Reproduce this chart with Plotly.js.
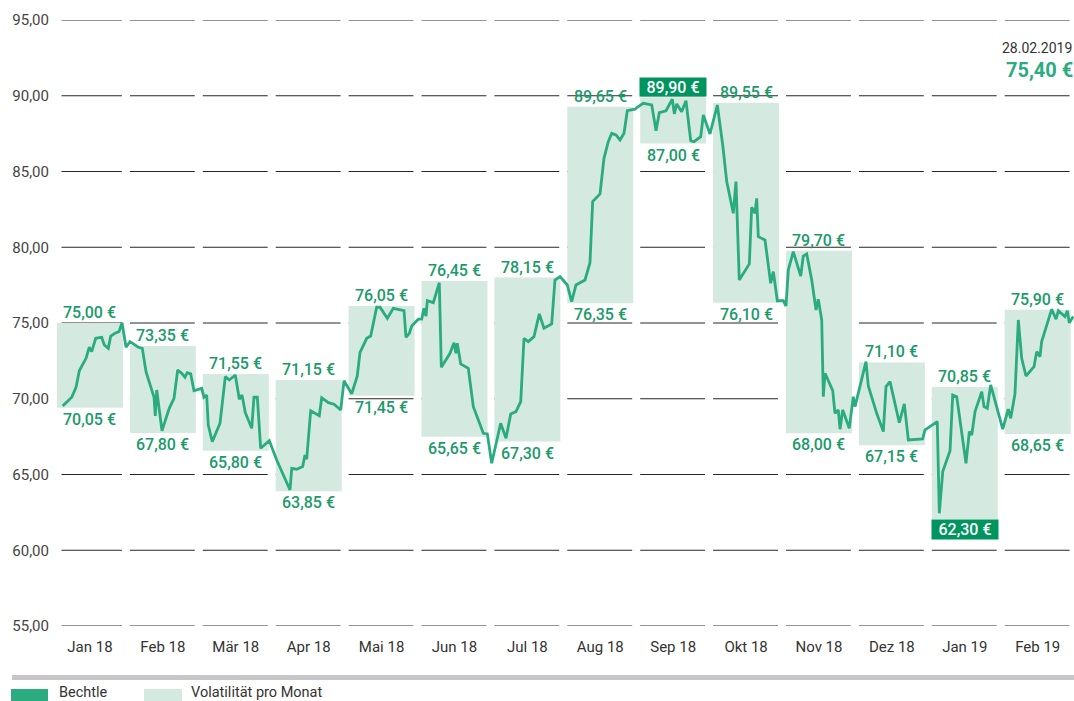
<!DOCTYPE html>
<html>
<head>
<meta charset="utf-8">
<script src="https://cdn.plot.ly/plotly-3.0.1.min.js"></script>
<style>
  html, body { margin: 0; padding: 0; background: #fff; }
  #chart { width: 1074px; height: 701px; }
</style>
</head>
<body>
<div id="chart"></div>
<script>
// ---------- DATA ----------
const months = ['Jan 18','Feb 18','Mär 18','Apr 18','Mai 18','Jun 18','Jul 18','Aug 18','Sep 18','Okt 18','Nov 18','Dez 18','Jan 19','Feb 19'];

// monthly range boxes (as drawn)
const boxHigh = [75.00, 73.48, 71.63, 71.24, 76.12, 77.77, 78.00, 89.28, 89.90, 89.54, 79.77, 72.40, 70.78, 75.88];
const boxLow  = [69.41, 67.74, 66.57, 63.90, 70.20, 67.50, 67.17, 76.30, 86.84, 76.34, 67.72, 66.93, 62.04, 67.67];

// printed monthly high / low labels
const labelHigh = [75.00, 73.35, 71.55, 71.15, 76.05, 76.45, 78.15, 89.65, 89.90, 89.55, 79.70, 71.10, 70.85, 75.90];
const labelLow  = [70.05, 67.80, 65.80, 63.85, 71.45, 65.65, 67.30, 76.35, 87.00, 76.10, 68.00, 67.15, 62.30, 68.65];
const highlightHigh = 8;   // Sep 18 : all-period high
const highlightLow  = 12;  // Jan 19 : all-period low

// Bechtle share price (position in months from Jan 18, price in EUR)
const dayPos = [0.078,0.202,0.261,0.306,0.398,0.443,0.476,0.531,0.613,0.649,0.704,0.737,0.796,0.850,0.892,0.947,1.001,
  1.115,1.170,1.221,1.285,1.331,1.348,1.368,1.440,1.540,1.605,1.656,1.711,1.756,1.787,1.834,1.879,1.985,
  2.016,2.053,2.075,2.130,2.236,2.309,2.364,2.446,2.501,2.538,2.583,2.671,2.702,2.748,2.794,2.912,
  3.014,3.082,3.196,3.220,3.288,3.370,3.402,3.425,3.480,3.598,3.631,3.722,3.800,3.892,3.937,4.043,
  4.119,4.156,4.248,4.303,4.385,4.431,4.531,4.613,4.760,4.787,4.833,4.866,4.956,
  5.003,5.034,5.062,5.080,5.162,5.244,5.272,5.391,5.446,5.473,5.491,5.538,5.642,5.711,5.848,5.903,5.963,
  6.086,6.159,6.224,6.296,6.361,6.406,6.465,6.543,6.616,6.680,6.786,6.831,6.900,
  7.000,7.060,7.119,7.243,7.311,7.348,7.449,7.503,7.562,7.609,7.668,7.723,7.778,7.823,7.929,
  7.960,8.042,8.158,8.217,8.262,8.354,8.409,8.440,8.468,8.501,8.569,8.628,8.693,8.738,8.830,8.866,
  8.957,9.058,9.132,9.187,9.277,9.314,9.359,9.414,9.497,9.529,9.575,9.598,9.620,9.712,9.790,9.826,9.881,9.963,
  10.000,10.032,10.100,10.202,10.237,10.284,10.353,10.412,10.443,10.490,10.512,10.535,10.641,10.672,10.717,10.741,10.778,10.868,10.923,10.947,
  11.097,11.129,11.244,11.335,11.372,11.427,11.554,11.623,11.678,11.875,11.907,
  12.075,12.103,12.150,12.250,12.287,12.342,12.469,12.515,12.548,12.593,12.685,12.716,12.761,12.808,
  12.973,13.049,13.082,13.141,13.187,13.233,13.292,13.402,13.439,13.484,13.507,13.645,13.704,13.736,13.827,13.859,13.886,13.941];
const price = [69.52,70.10,70.76,71.85,72.67,73.40,73.11,73.99,74.06,73.55,73.33,74.14,74.32,74.43,75.02,73.40,73.77,
  73.40,73.33,71.79,70.80,70.10,68.86,70.58,67.89,69.37,70.03,71.90,71.68,71.42,71.72,71.64,70.53,70.69,
  70.10,70.25,68.27,67.17,68.38,71.46,71.24,71.57,69.97,70.25,69.08,68.05,70.10,70.10,66.73,67.23,
  65.96,65.19,63.98,65.41,65.35,65.52,66.29,66.01,69.21,68.88,70.07,69.74,69.64,69.26,71.19,70.32,
  71.50,73.04,73.99,74.14,76.04,76.04,75.31,75.97,75.81,74.06,74.32,74.80,75.25,
  75.25,75.97,75.46,76.47,76.34,77.66,72.08,73.00,73.70,73.00,73.66,72.30,72.01,69.48,67.72,67.68,65.74,
  68.38,67.39,69.00,69.15,69.81,73.99,73.77,74.10,75.60,74.65,74.94,77.84,78.06,
  77.51,76.41,77.51,77.84,78.98,83.01,83.52,85.87,86.97,87.52,87.41,87.08,87.52,89.01,89.11,
  89.24,89.50,89.39,87.69,88.88,89.01,89.50,89.77,88.80,89.46,88.95,89.67,87.03,86.97,87.30,88.73,
  87.48,89.39,86.75,84.33,82.24,84.33,77.84,78.28,78.90,82.64,82.24,83.23,80.70,80.48,77.62,78.39,76.47,76.47,
  76.12,78.50,79.71,78.10,79.42,79.56,77.84,75.86,76.57,75.20,70.14,71.68,70.53,69.04,69.26,67.99,69.26,68.05,70.14,69.48,
  72.45,70.84,69.04,67.83,70.80,71.13,68.42,69.66,67.28,67.35,67.94,
  68.49,62.44,65.19,66.57,70.25,70.14,65.74,67.83,67.61,69.15,70.47,69.48,69.37,70.91,
  67.99,69.31,68.71,70.32,75.20,72.67,71.50,72.12,73.11,72.78,73.77,75.91,75.25,75.81,75.42,75.81,75.02,75.42];

const yTicks = [55, 60, 65, 70, 75, 80, 85, 90, 95];
const lastDate = '28.02.2019';
const lastPrice = 75.40;

// ---------- STYLE / LAYOUT ----------
const GREEN = '#2aab80';
const LABEL_GREEN = '#1b9a6a';
const DARK_GREEN = '#00945f';
const BOX_FILL = '#d4e9df';
const FONT = 'Roboto, "Open Sans", sans-serif';

const W = 1074, H = 701;
const M = {l: 50, r: 0, t: 20, b: 75};
const PW = W - M.l - M.r, PH = H - M.t - M.b;
const BOX_W = 0.905;
const px2x = px => (px - M.l) / PW;          // pixel -> paper x
const py2y = py => (M.t + PH - py) / PH;     // pixel -> paper y

const fmt = v => v.toFixed(2).replace('.', ',');
const eur = v => fmt(v) + ' €';

const idx = months.map((m, i) => i);

const traces = [
  {
    type: 'bar',
    x: idx.map(i => i + BOX_W / 2),
    base: boxLow,
    y: boxHigh.map((h, i) => h - boxLow[i]),
    width: BOX_W,
    marker: {color: BOX_FILL, line: {width: 0}},
    hoverinfo: 'skip',
    showlegend: false
  },
  {
    type: 'scatter',
    mode: 'lines',
    x: dayPos,
    y: price,
    line: {color: GREEN, width: 2.8},
    hoverinfo: 'skip',
    showlegend: false
  }
];

const shapes = [];
// segmented grid lines, one segment per month
yTicks.forEach(v => {
  idx.forEach(i => {
    shapes.push({
      type: 'line', layer: 'below', xref: 'x', yref: 'y',
      x0: i === 0 ? 0.062 : i, x1: i + 0.89, y0: v, y1: v,
      line: {color: '#262626', width: 1}
    });
  });
});
// bottom grey rule
shapes.push({type: 'rect', xref: 'paper', yref: 'paper',
  x0: px2x(12), x1: px2x(1074), y0: py2y(680), y1: py2y(675),
  fillcolor: '#c5c5ca', line: {width: 0}});
// legend swatches
shapes.push({type: 'rect', xref: 'paper', yref: 'paper',
  x0: px2x(11), x1: px2x(48), y0: py2y(702), y1: py2y(689),
  fillcolor: GREEN, line: {width: 0}});
shapes.push({type: 'rect', xref: 'paper', yref: 'paper',
  x0: px2x(144), x1: px2x(182), y0: py2y(702), y1: py2y(689),
  fillcolor: BOX_FILL, line: {width: 0}});

const annotations = [];
idx.forEach(i => {
  const cx = i + BOX_W / 2;
  const hiHL = i === highlightHigh, loHL = i === highlightLow;
  annotations.push({
    x: cx, y: boxHigh[i], xref: 'x', yref: 'y',
    text: eur(labelHigh[i]), showarrow: false,
    xanchor: 'center', yanchor: 'bottom',
    font: {family: FONT, size: 16, weight: 500, color: hiHL ? '#ffffff' : LABEL_GREEN},
    bgcolor: hiHL ? DARK_GREEN : 'rgba(0,0,0,0)',
    width: hiHL ? 66 : undefined, height: hiHL ? 18 : undefined,
    borderpad: 0
  });
  annotations.push({
    x: cx, y: boxLow[i], xref: 'x', yref: 'y',
    text: eur(labelLow[i]), showarrow: false,
    xanchor: 'center', yanchor: 'top',
    font: {family: FONT, size: 16, weight: 500, color: loHL ? '#ffffff' : LABEL_GREEN},
    bgcolor: loHL ? DARK_GREEN : 'rgba(0,0,0,0)',
    width: loHL ? 66 : undefined, height: loHL ? 19 : undefined,
    borderpad: 0, yshift: loHL ? 0 : -1
  });
});
// last price box (top right)
annotations.push({xref: 'paper', yref: 'paper', x: px2x(1074), y: py2y(48),
  xanchor: 'right', yanchor: 'middle', showarrow: false, text: lastDate,
  font: {family: FONT, size: 14, color: '#333333'}});
annotations.push({xref: 'paper', yref: 'paper', x: px2x(1075), y: py2y(70),
  xanchor: 'right', yanchor: 'middle', showarrow: false, text: eur(lastPrice),
  font: {family: FONT, size: 20, weight: 700, color: GREEN}});
// legend texts
annotations.push({xref: 'paper', yref: 'paper', x: px2x(57), y: py2y(692),
  xanchor: 'left', yanchor: 'middle', showarrow: false, text: 'Bechtle',
  font: {family: FONT, size: 14.5, color: '#333333'}});
annotations.push({xref: 'paper', yref: 'paper', x: px2x(189), y: py2y(692),
  xanchor: 'left', yanchor: 'middle', showarrow: false, text: 'Volatilität pro Monat',
  font: {family: FONT, size: 14.5, color: '#333333'}});

const xLeft = -7 / 72.9;
const layout = {
  width: W, height: H,
  margin: {l: M.l, r: M.r, t: M.t, b: M.b, pad: 0},
  paper_bgcolor: '#ffffff', plot_bgcolor: '#ffffff',
  showlegend: false,
  barmode: 'overlay',
  font: {family: FONT, color: '#333333'},
  xaxis: {
    range: [xLeft, xLeft + PW / 72.9],
    tickmode: 'array',
    tickvals: idx.map(i => i + BOX_W / 2),
    ticktext: months,
    ticks: 'outside', ticklen: 7, tickcolor: 'rgba(0,0,0,0)',
    tickfont: {family: FONT, size: 15, color: '#333333'},
    showgrid: false, zeroline: false, showline: false, fixedrange: true
  },
  yaxis: {
    range: [55, 95],
    tickmode: 'array',
    tickvals: yTicks,
    ticktext: yTicks.map(fmt),
    ticks: '',
    tickfont: {family: FONT, size: 15, color: '#444444'},
    showgrid: false, zeroline: false, showline: false, fixedrange: true
  },
  shapes: shapes,
  annotations: annotations
};

Plotly.newPlot('chart', traces, layout, {staticPlot: true, displayModeBar: false});
</script>
</body>
</html>
